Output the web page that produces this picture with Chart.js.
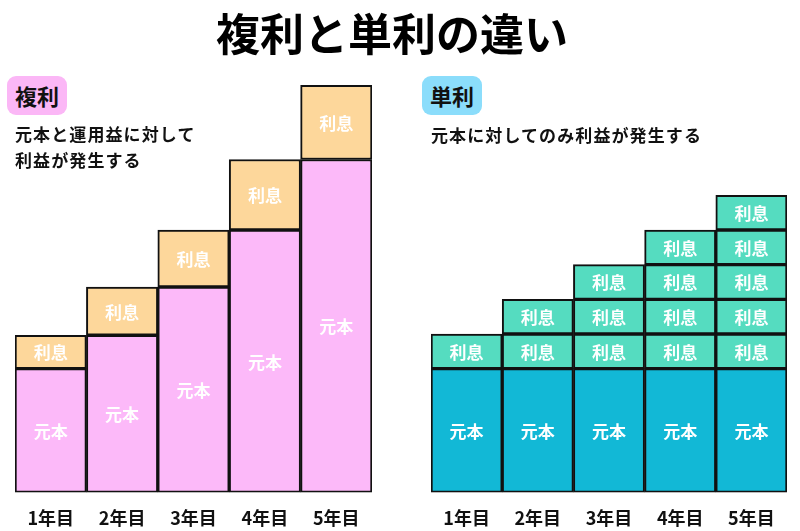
<!DOCTYPE html>
<html lang="ja">
<head>
<meta charset="utf-8">
<script src="https://cdn.jsdelivr.net/npm/chart.js@4"></script>
<style>
  body { margin: 0; background: #fff; font-family: "Noto Sans CJK JP", sans-serif; }
  #wrap { position: relative; width: 800px; height: 531px; overflow: hidden; }
  .cv { position: absolute; top: 0; width: 400px; height: 540px; }
  #title { position: absolute; left: -8px; top: 5px; width: 800px; text-align: center;
           font-size: 44px; font-weight: bold; line-height: 54px; color: #000; }
  .badge { position: absolute; top: 76px; width: 60px; height: 39px; border-radius: 9px;
           font-size: 22px; font-weight: bold; line-height: 39px; text-align: center; color: #111; }
  .sub { position: absolute; font-size: 17px; font-weight: bold; line-height: 26px;
         color: #111; letter-spacing: 1.1px; }
</style>
</head>
<body>
<div id="wrap">
  <canvas id="leftChart" class="cv" style="left:0"></canvas>
  <canvas id="rightChart" class="cv" style="left:400px"></canvas>
  <div id="title">複利と単利の違い</div>
  <div class="badge" style="left:7px;background:#fbb7f6">複利</div>
  <div class="sub" style="left:15px;top:121px">元本と運用益に対して<br>利益が発生する</div>
  <div class="badge" style="left:422px;background:#8bddfb">単利</div>
  <div class="sub" style="left:431px;top:122px">元本に対してのみ利益が発生する</div>
</div>
<script>
// 共通のラベル
const years = ['1年目', '2年目', '3年目', '4年目', '5年目'];

// 複利: 元本（前年の合計）と利息
const compoundPrincipal = [100, 127, 166, 212, 269];
const compoundInterest = [27, 39, 46, 57, 60];

// 単利: 元本は一定、利息は毎年同じ額が積み上がる
const simplePrincipal = [100, 100, 100, 100, 100];
const simpleInterest1 = [28, 28, 28, 28, 28];
const simpleInterest2 = [null, 28, 28, 28, 28];
const simpleInterest3 = [null, null, 28, 28, 28];
const simpleInterest4 = [null, null, null, 28, 28];
const simpleInterest5 = [null, null, null, null, 28];

const yMax = 330;
const FONT = '"Noto Sans CJK JP", sans-serif';

// バーの中に白文字でデータセット名を書く
const barText = {
  id: 'barText',
  afterDatasetsDraw(chart) {
    const ctx = chart.ctx;
    ctx.save();
    ctx.fillStyle = '#fff';
    ctx.font = 'bold 17px ' + FONT;
    ctx.textAlign = 'center';
    ctx.textBaseline = 'middle';
    chart.data.datasets.forEach((ds, i) => {
      chart.getDatasetMeta(i).data.forEach((bar, j) => {
        if (ds.data[j] == null) return;
        const p = bar.getProps(['x', 'y', 'base'], true);
        ctx.fillText(ds.label, p.x, (p.y + p.base) / 2 + 1);
      });
    });
    ctx.restore();
  }
};

function seg(label, data, color) {
  return {
    label: label,
    data: data,
    backgroundColor: color,
    borderColor: '#111',
    borderWidth: 2,
    borderSkipped: false,
    barPercentage: 1,
    categoryPercentage: 1
  };
}

function opts(padLeft, padRight) {
  return {
    responsive: false,
    animation: false,
    layout: { padding: { left: padLeft, right: padRight, top: 84, bottom: 4 } },
    plugins: { legend: { display: false }, tooltip: { enabled: false } },
    scales: {
      x: {
        stacked: true,
        grid: { display: false },
        border: { display: false },
        ticks: { color: '#111', padding: 7, font: { family: FONT, size: 18, weight: 'bold' } }
      },
      y: { stacked: true, display: false, min: 0, max: yMax }
    }
  };
}

const leftCanvas = document.getElementById('leftChart');
leftCanvas.width = 400; leftCanvas.height = 540;
new Chart(leftCanvas, {
  type: 'bar',
  data: {
    labels: years,
    datasets: [
      seg('元本', compoundPrincipal, '#fcb9f9'),
      seg('利息', compoundInterest, '#fdd79b')
    ]
  },
  options: opts(15, 28),
  plugins: [barText]
});

const rightCanvas = document.getElementById('rightChart');
rightCanvas.width = 400; rightCanvas.height = 540;
new Chart(rightCanvas, {
  type: 'bar',
  data: {
    labels: years,
    datasets: [
      seg('元本', simplePrincipal, '#12b8d6'),
      seg('利息', simpleInterest1, '#55dcc0'),
      seg('利息', simpleInterest2, '#55dcc0'),
      seg('利息', simpleInterest3, '#55dcc0'),
      seg('利息', simpleInterest4, '#55dcc0'),
      seg('利息', simpleInterest5, '#55dcc0')
    ]
  },
  options: opts(31, 13),
  plugins: [barText]
});
</script>
</body>
</html>
